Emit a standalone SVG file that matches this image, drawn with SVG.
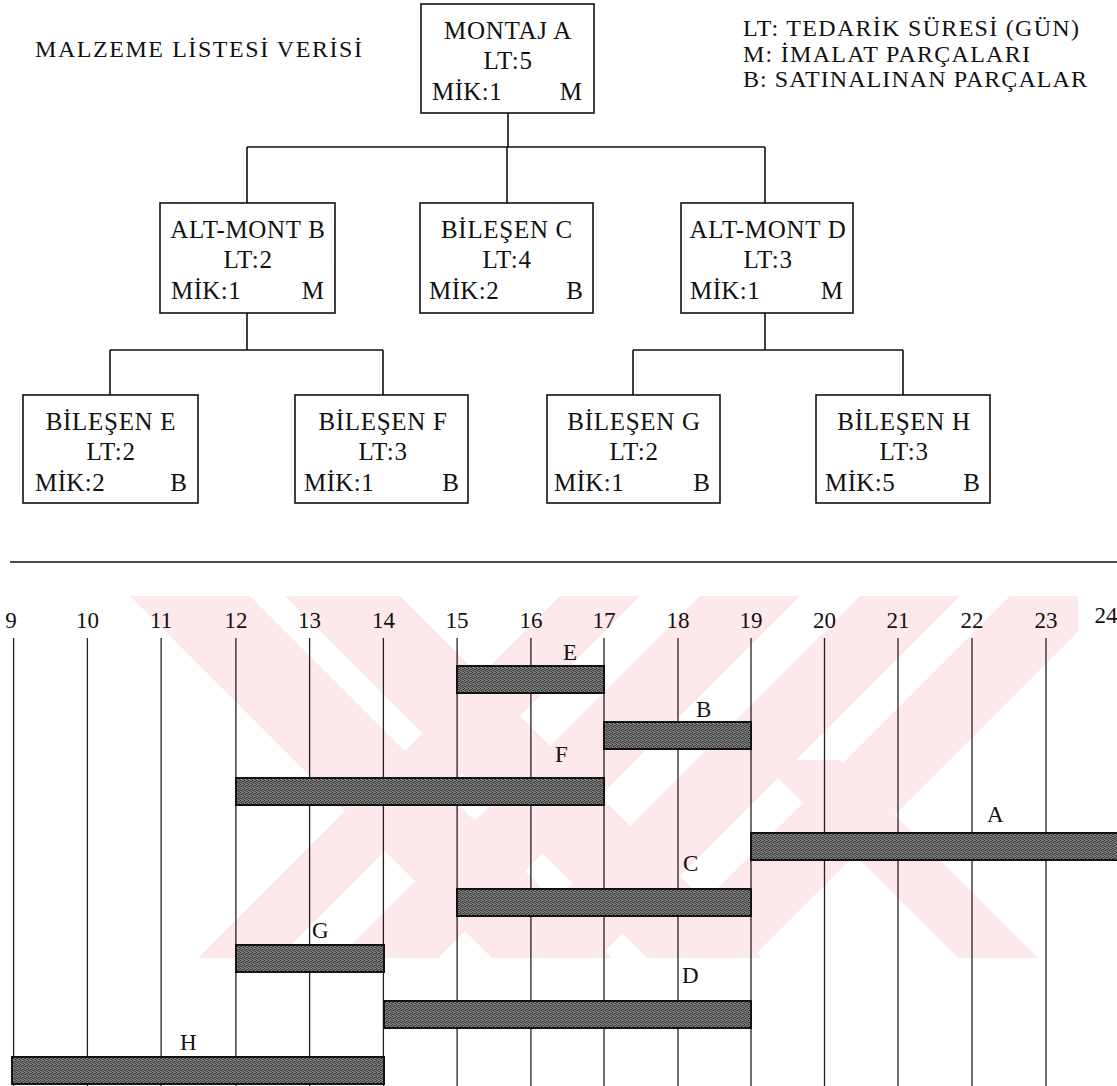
<svg xmlns="http://www.w3.org/2000/svg" width="1117" height="1086" viewBox="0 0 1117 1086">
<defs>
<style>
text{font-family:"Liberation Serif","Times New Roman",serif;fill:#111;}
.t{font-size:24px;}
.nm{font-size:25px;text-anchor:middle;letter-spacing:0.7px;}
.l{font-size:25px;letter-spacing:0.4px;}
.r{font-size:25px;text-anchor:end;}
.num{font-size:23px;text-anchor:middle;}
.lab{font-size:23px;}
.box{fill:#fff;stroke:#111;stroke-width:1.6;}
.cn{fill:none;stroke:#111;stroke-width:1.6;}
.grid{stroke:#222;stroke-width:1.3;}
.bar{fill:url(#stip);stroke:#111;stroke-width:2;}
.wm{fill:#fde8ec;}
</style>
<pattern id="stip" width="4" height="4" patternUnits="userSpaceOnUse">
<rect width="4" height="4" fill="#7c7c7c"/>
<rect x="0" y="0" width="1" height="1" fill="#2a2a2a"/>
<rect x="2" y="1" width="1" height="1" fill="#333"/>
<rect x="1" y="2" width="1" height="1" fill="#2e2e2e"/>
<rect x="3" y="3" width="1" height="1" fill="#444"/>
<rect x="2" y="3" width="1" height="1" fill="#555"/>
<rect x="3" y="1" width="1" height="1" fill="#4a4a4a"/>
<rect x="0" y="2" width="1" height="1" fill="#555"/>
</pattern>
<clipPath id="wmclip"><rect x="128" y="596" width="950" height="362"/></clipPath>
</defs>
<rect width="1117" height="1086" fill="#fff"/>

<g id="watermark" clip-path="url(#wmclip)">
<polygon class="wm" points="130,596 250,596 612,958 492,958"/>
<polygon class="wm" points="285,596 400,596 762,958 647,958"/>
<polygon class="wm" points="560,596 640,596 278,958 198,958"/>
<polygon class="wm" points="700,596 800,596 438,958 338,958"/>
<polygon class="wm" points="860,596 960,596 598,958 498,958"/>
<polygon class="wm" points="1010,596 1080,596 1080,630 752,958 648,958"/>
<polygon class="wm" points="760,760 840,760 1038,958 958,958"/>
</g>

<text class="t" x="35" y="57" textLength="327">MALZEME LİSTESİ VERİSİ</text>
<g id="legend">
<text class="t" x="743" y="36" textLength="336">LT: TEDARİK SÜRESİ (GÜN)</text>
<text class="t" x="743" y="62" textLength="287">M: İMALAT PARÇALARI</text>
<text class="t" x="743" y="87" textLength="344">B: SATINALINAN PARÇALAR</text>
</g>

<g id="connectors">
<path class="cn" d="M508,113 V147 M247,147 H765 M247,147 V203 M507,147 V203 M765,147 V203"/>
<path class="cn" d="M247,313 V350 M110,350 H383 M110,350 V395 M383,350 V395"/>
<path class="cn" d="M765,313 V350 M633,350 H903 M633,350 V395 M903,350 V395"/>
</g>

<g id="node-A">
<rect class="box" x="421" y="4" width="173" height="109"/>
<text class="nm" x="508" y="39">MONTAJ A</text>
<text class="nm" x="508" y="69">LT:5</text>
<text class="l" x="432" y="100">MİK:1</text>
<text class="r" x="582" y="100">M</text>
</g>
<g id="node-B">
<rect class="box" x="160" y="203" width="175" height="110"/>
<text class="nm" x="248" y="238">ALT-MONT B</text>
<text class="nm" x="248" y="268">LT:2</text>
<text class="l" x="171" y="299">MİK:1</text>
<text class="r" x="324" y="299">M</text>
</g>
<g id="node-C">
<rect class="box" x="420" y="203" width="173" height="110"/>
<text class="nm" x="507" y="238">BİLEŞEN C</text>
<text class="nm" x="507" y="268">LT:4</text>
<text class="l" x="429" y="299">MİK:2</text>
<text class="r" x="583" y="299">B</text>
</g>
<g id="node-D">
<rect class="box" x="681" y="203" width="172" height="110"/>
<text class="nm" x="768" y="238">ALT-MONT D</text>
<text class="nm" x="768" y="268">LT:3</text>
<text class="l" x="690" y="299">MİK:1</text>
<text class="r" x="843" y="299">M</text>
</g>
<g id="node-E">
<rect class="box" x="23" y="395" width="175" height="108"/>
<text class="nm" x="111" y="430">BİLEŞEN E</text>
<text class="nm" x="111" y="460">LT:2</text>
<text class="l" x="35" y="491">MİK:2</text>
<text class="r" x="187" y="491">B</text>
</g>
<g id="node-F">
<rect class="box" x="295" y="395" width="173" height="108"/>
<text class="nm" x="383" y="430">BİLEŞEN F</text>
<text class="nm" x="383" y="460">LT:3</text>
<text class="l" x="304" y="491">MİK:1</text>
<text class="r" x="459" y="491">B</text>
</g>
<g id="node-G">
<rect class="box" x="547" y="395" width="173" height="108"/>
<text class="nm" x="634" y="430">BİLEŞEN G</text>
<text class="nm" x="634" y="460">LT:2</text>
<text class="l" x="554" y="491">MİK:1</text>
<text class="r" x="710" y="491">B</text>
</g>
<g id="node-H">
<rect class="box" x="816" y="395" width="174" height="108"/>
<text class="nm" x="904" y="430">BİLEŞEN H</text>
<text class="nm" x="904" y="460">LT:3</text>
<text class="l" x="825" y="491">MİK:5</text>
<text class="r" x="980" y="491">B</text>
</g>

<line x1="10" y1="562" x2="1117" y2="562" stroke="#111" stroke-width="1.5"/>

<g id="timeline">
<g class="grid">
<line x1="13.6" y1="638" x2="13.6" y2="1086"/>
<line x1="87.4" y1="638" x2="87.4" y2="1086"/>
<line x1="161.1" y1="638" x2="161.1" y2="1086"/>
<line x1="235.9" y1="638" x2="235.9" y2="1086"/>
<line x1="309.6" y1="638" x2="309.6" y2="1086"/>
<line x1="383.4" y1="638" x2="383.4" y2="1086"/>
<line x1="457.1" y1="638" x2="457.1" y2="1086"/>
<line x1="530.9" y1="638" x2="530.9" y2="1086"/>
<line x1="604" y1="638" x2="604" y2="1086"/>
<line x1="678" y1="638" x2="678" y2="1086"/>
<line x1="751" y1="638" x2="751" y2="1086"/>
<line x1="824.5" y1="638" x2="824.5" y2="1086"/>
<line x1="898" y1="638" x2="898" y2="1086"/>
<line x1="972" y1="638" x2="972" y2="1086"/>
<line x1="1046" y1="638" x2="1046" y2="1086"/>
</g>
<g>
<text class="num" x="11" y="628">9</text>
<text class="num" x="87.4" y="628">10</text>
<text class="num" x="161.1" y="628">11</text>
<text class="num" x="235.9" y="628">12</text>
<text class="num" x="309.6" y="628">13</text>
<text class="num" x="383.4" y="628">14</text>
<text class="num" x="457.1" y="628">15</text>
<text class="num" x="530.9" y="628">16</text>
<text class="num" x="604" y="628">17</text>
<text class="num" x="678" y="628">18</text>
<text class="num" x="751" y="628">19</text>
<text class="num" x="824.5" y="628">20</text>
<text class="num" x="898" y="628">21</text>
<text class="num" x="972" y="628">22</text>
<text class="num" x="1046" y="628">23</text>
<text class="num" x="1106" y="623">24</text>
</g>
<g id="bars">
<rect class="bar" x="457" y="666" width="147" height="27"/>
<rect class="bar" x="604" y="722" width="147" height="27"/>
<rect class="bar" x="236" y="778" width="368" height="27"/>
<rect class="bar" x="751" y="833" width="368" height="27"/>
<rect class="bar" x="457" y="889" width="294" height="27"/>
<rect class="bar" x="236" y="945" width="148" height="27"/>
<rect class="bar" x="384" y="1001" width="367" height="27"/>
<rect class="bar" x="12" y="1057" width="372" height="27"/>
</g>
<g id="bar-labels">
<text class="lab" x="563" y="660">E</text>
<text class="lab" x="696" y="717">B</text>
<text class="lab" x="555" y="762">F</text>
<text class="lab" x="987" y="822">A</text>
<text class="lab" x="683" y="871">C</text>
<text class="lab" x="682" y="983">D</text>
<text class="lab" x="312" y="938">G</text>
<text class="lab" x="180" y="1050">H</text>
</g>
</g>
</svg>
